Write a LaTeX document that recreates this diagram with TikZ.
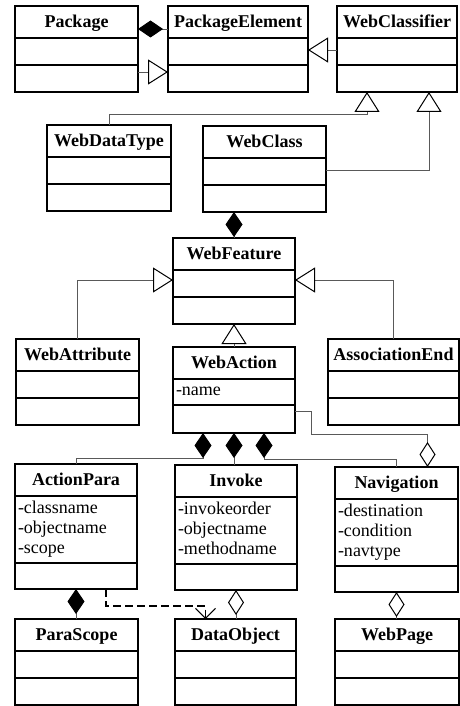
\documentclass[tikz,border=0pt]{standalone}
\usepackage{fontspec}
\setmainfont{Liberation Serif}
\usetikzlibrary{arrows.meta, calc, shapes.multipart}

\newcommand{\umltitle}[1]{\hbox to\hsize{\hfil\textbf{#1}\rule[-10pt]{0pt}{30.6pt}\hfil}}
\newcommand{\umlgap}[1][25.6pt]{\rule{0pt}{#1}}

\begin{document}
\begin{tikzpicture}[
    x=1pt, y=-1pt,
    umlclass/.style={rectangle split, rectangle split parts=3, draw=black, line width=1.4pt,
                     inner xsep=3pt, inner ysep=0pt, outer sep=0pt, align=left,
                     text width=#1, anchor=north west, font=\fontsize{18}{20}\selectfont},
    link/.style={draw=black!65, line width=0.9pt},
    compo/.style={link, {Diamond[length=25pt, width=17pt, color=black, line width=1pt]}-},
    aggr/.style={link, {Diamond[open, fill=white, length=25pt, width=16pt, color=black, line width=1pt]}-},
    gen/.style={link, -{Triangle[open, fill=white, length=20pt, width=25pt, color=black, line width=1pt]}},
    dep/.style={draw=black, line width=1.6pt, dash pattern=on 8pt off 4pt,
                -{Straight Barb[length=10pt, width=20pt, line width=1pt]}}
  ]
    \useasboundingbox (0,0) rectangle (459,706);

    % top row
    \node[umlclass=117pt] (pkg) at (15,6) {\umltitle{Package} \nodepart{two}\umlgap \nodepart{three}\umlgap};
    \node[umlclass=134pt] (pkgel) at (168,6) {\umltitle{PackageElement} \nodepart{two}\umlgap \nodepart{three}\umlgap};
    \node[umlclass=114pt] (wcls) at (337,6) {\umltitle{WebClassifier} \nodepart{two}\umlgap \nodepart{three}\umlgap};

    \node[umlclass=118pt] (wdt) at (47,125) {\umltitle{WebDataType} \nodepart{two}\umlgap \nodepart{three}\umlgap};
    \node[umlclass=117pt] (wclass) at (203,126) {\umltitle{WebClass} \nodepart{two}\umlgap \nodepart{three}\umlgap};

    \node[umlclass=116pt] (wfeat) at (173,238) {\umltitle{WebFeature} \nodepart{two}\umlgap \nodepart{three}\umlgap};

    \node[umlclass=117pt] (wattr) at (16,339) {\umltitle{WebAttribute} \nodepart{two}\umlgap \nodepart{three}\umlgap};
    \node[umlclass=116pt] (waction) at (173,347) {\umltitle{WebAction}
      \nodepart{two}\rule{0pt}{15.6pt}-name\rule[-9pt]{0pt}{9pt}
      \nodepart{three}\umlgap[26.6pt]};
    \node[umlclass=125pt] (assoc) at (328,339) {\umltitle{AssociationEnd} \nodepart{two}\umlgap \nodepart{three}\umlgap};

    % action parts
    \node[umlclass=116pt] (apara) at (15,464) {\umltitle{ActionPara}
      \nodepart{two}\rule{0pt}{16.6pt}-classname\\-objectname\\-scope\rule[-9pt]{0pt}{9pt}
      \nodepart{three}\umlgap[24.6pt]};
    \node[umlclass=116pt] (invoke) at (175,465) {\umltitle{Invoke}
      \nodepart{two}\rule{0pt}{16.6pt}-invokeorder\\-objectname\\-methodname\rule[-9pt]{0pt}{9pt}
      \nodepart{three}\umlgap[24.6pt]};
    \node[umlclass=117pt] (nav) at (335,467) {\umltitle{Navigation}
      \nodepart{two}\rule{0pt}{16.6pt}-destination\\-condition\\-navtype\rule[-9pt]{0pt}{9pt}
      \nodepart{three}\umlgap[24.6pt]};

    % bottom row
    \node[umlclass=117pt] (pscope) at (15,619) {\umltitle{ParaScope} \nodepart{two}\umlgap \nodepart{three}\umlgap};
    \node[umlclass=115pt] (dobj) at (175,619) {\umltitle{DataObject} \nodepart{two}\umlgap \nodepart{three}\umlgap};
    \node[umlclass=118pt] (wpage) at (335,619) {\umltitle{WebPage} \nodepart{two}\umlgap \nodepart{three}\umlgap};

    % package level
    \draw[compo] ($(pkg.north east)+(0,23)$) -- ($(pkgel.north west)+(0,23)$);
    \draw[gen] ($(pkg.north east)+(0,66)$) -- ($(pkgel.north west)+(0,66)$);
    \draw[gen] ($(wcls.north west)+(0,44)$) -- ($(pkgel.north east)+(0,44)$);
    \draw[gen] (wdt.north) |- ($(wcls.south)+(-30,22)$) -- ($(wcls.south)+(-30,0)$);
    \draw[gen] ($(wclass.north east)+(0,44)$) -| ($(wcls.south)+(32,0)$);

    % features
    \draw[compo] (wclass.south -| wfeat.north) -- (wfeat.north);
    \draw[gen] (wattr.north) |- ($(wfeat.north west)+(0,42)$);
    \draw[gen] (assoc.north) |- ($(wfeat.north east)+(0,42)$);
    \draw[gen] (waction.north) -- (wfeat.south);

    % action
    \draw[compo] ($(waction.south)+(-31,0)$) -- ++(0,25) -| (apara.north);
    \draw[compo] (waction.south) -- (waction.south |- invoke.north);
    \draw[compo] ($(waction.south)+(30,0)$) -- ++(0,26) -| (nav.north);
    \draw[aggr] ($(nav.north)+(31,0)$) |- ($(waction.north east)+(16,87)$) |- ($(waction.north east)+(0,64)$);

    \draw[compo] (apara.south) -- (apara.south |- pscope.north);
    \draw[aggr] (invoke.south) -- (invoke.south |- dobj.north);
    \draw[aggr] (nav.south) -- (nav.south |- wpage.north);
    \draw[dep] ($(apara.south)+(30,0)$) |- ($(dobj.north)+(-30,-13)$) -- ($(dobj.north)+(-30,0)$);
  \end{tikzpicture}
\end{document}
